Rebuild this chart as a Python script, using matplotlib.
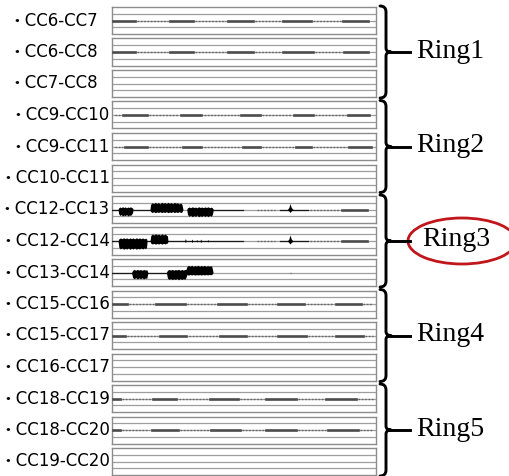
import numpy as np
import matplotlib.pyplot as plt
from matplotlib.path import Path
from matplotlib.patches import PathPatch, Ellipse

# labels of the distance pairs, 3 per ring
pairs = ["CC6-CC7", "CC6-CC8", "CC7-CC8",
         "CC9-CC10", "CC9-CC11", "CC10-CC11",
         "CC12-CC13", "CC12-CC14", "CC13-CC14",
         "CC15-CC16", "CC15-CC17", "CC16-CC17",
         "CC18-CC19", "CC18-CC20", "CC19-CC20"]
rings = ["Ring1", "Ring2", "Ring3", "Ring4", "Ring5"]

# faint traces: (start, end) on a 0-1000 time axis, dark and light parts
dark = {
    0: [(3, 87), (219, 308), (440, 534), (648, 755), (876, 970)],
    1: [(3, 87), (219, 308), (440, 534), (648, 761), (880, 970)],
    3: [(43, 131), (263, 339), (490, 559), (691, 761), (893, 975)],
    4: [(49, 131), (269, 339), (496, 559), (697, 754), (899, 981)],
    6: [(871, 966)],
    7: [(871, 966)],
    9: [(3, 55), (168, 275), (402, 509), (628, 729), (849, 943)],
    10: [(3, 49), (181, 282), (408, 509), (628, 735), (849, 950)],
    12: [(3, 30), (156, 244), (370, 477), (584, 698), (811, 924)],
    13: [(3, 30), (150, 250), (376, 483), (584, 698), (817, 930)],
}
light = {
    0: [(87, 219), (308, 440), (534, 648), (755, 876)],
    1: [(87, 219), (308, 440), (534, 648), (761, 880)],
    3: [(3, 43), (131, 263), (339, 490), (559, 691), (761, 893)],
    4: [(3, 49), (131, 269), (339, 496), (559, 697), (754, 899)],
    6: [(542, 625), (742, 871)],
    7: [(542, 625), (742, 871)],
    8: [(667, 686)],
    9: [(55, 168), (275, 402), (509, 628), (729, 849), (943, 995)],
    10: [(49, 181), (282, 408), (509, 628), (735, 849), (950, 995)],
    12: [(30, 156), (244, 370), (477, 584), (698, 811), (924, 995)],
    13: [(30, 150), (250, 376), (483, 584), (698, 817), (930, 995)],
}
# thin black trace parts (ring 3)
solid = {
    6: [(0, 23), (80, 144), (383, 496), (636, 742)],
    7: [(0, 23), (133, 144), (212, 496), (636, 742)],
    8: [(0, 76), (136, 208)],
}

# ring 3 envelopes: time, upper and lower deviation (px)
env7_t = [23, 25, 30, 35, 40, 45, 50, 55, 60, 65, 70, 75, 78, 80,
          144, 146, 152, 158, 164, 170, 176, 182, 188, 194, 200, 206, 212, 218,
          224, 230, 236, 242, 248, 254, 260, 265, 269,
          283, 286, 292, 298, 304, 310, 316, 322, 328, 334, 340, 346, 352,
          358, 364, 370, 376, 380, 384,
          664, 670, 674, 679, 686]
env7_up = [0, 1.5, 2.5, 1.8, 2.8, 2, 2.6, 1.7, 2.5, 2, 2.7, 1.8, 1.5, 0,
           0, 5, 6.8, 5.8, 7.2, 6, 7, 5.6, 7.3, 6.2, 7, 5.8, 7.2, 6,
           7, 5.7, 7.2, 6.1, 6.8, 5.5, 6.6, 5, 0,
           0, 1.6, 2.5, 1.8, 2.7, 2, 2.4, 1.7, 2.8, 2, 2.5, 1.8, 2.6,
           2, 2.7, 1.8, 2.4, 1.6, 0,
           0, 2, 6, 2, 0]
env7_dn = [0, 4, 6, 5, 6.5, 5.5, 6.2, 5, 6.5, 5.5, 6, 4.5, 3, 0,
           0, 2, 3, 2.2, 3.2, 2.4, 3, 2.2, 3.1, 2.4, 3, 2.2, 3.2, 2.5,
           3, 2.2, 3.1, 2.4, 3, 2.2, 3, 2.4, 0,
           0, 5, 6.8, 5.8, 7.2, 6, 7, 5.6, 7.3, 6.2, 7, 5.8, 7,
           6, 7.2, 5.8, 6.8, 5, 0,
           0, 1.5, 3, 1.5, 0]
env8_t = [23, 26, 32, 38, 44, 50, 56, 62, 68, 74, 80, 86, 92, 98, 104, 110,
          116, 122, 128, 131, 133,
          144, 147, 153, 159, 165, 171, 177, 183, 189, 195, 201, 207, 210, 212,
          275, 278, 281, 300, 303, 306, 318, 321, 324, 333, 336, 339, 360, 363, 366,
          664, 670, 674, 679, 686]
env8_up = [0, 2.2, 3, 2.3, 3.2, 2.5, 3, 2.2, 3.1, 2.4, 3, 2.2, 3.2, 2.4, 3, 2.3,
           3, 2.2, 2.8, 2, 0,
           0, 5.5, 7, 6, 7.3, 6.2, 7, 5.8, 7.2, 6, 7, 5.6, 5, 0,
           0, 2.5, 0, 0, 2, 0, 0, 1.5, 0, 0, 2, 0, 0, 1.5, 0,
           0, 2, 6, 2, 0]
env8_dn = [0, 6.5, 8, 7, 8.2, 7.4, 8, 7, 8.3, 7.2, 8, 7, 8.2, 7.3, 8, 7,
           8, 7, 7.6, 6, 0,
           0, 2.2, 3, 2.4, 3.2, 2.5, 3, 2.3, 3.1, 2.4, 3, 2.2, 2, 0,
           0, 1.5, 0, 0, 1.5, 0, 0, 1, 0, 0, 1.5, 0, 0, 1, 0,
           0, 1.5, 3, 1.5, 0]
env9_t = [74, 78, 84, 90, 96, 102, 108, 114, 120, 126, 132, 136,
          206, 210, 216, 222, 228, 234, 240, 246, 252, 258, 264, 270, 276, 280,
          284, 290, 296, 302, 308, 314, 320, 326, 332, 338, 344, 350, 356,
          362, 368, 374, 378, 383]
env9_up = [0, 2.2, 3, 2.3, 3.1, 2.4, 3, 2.2, 3, 2.4, 2.8, 0,
           0, 2.2, 3, 2.4, 3.1, 2.3, 3, 2.5, 3.2, 2.3, 3, 2.4, 3, 3,
           6, 7.2, 6.2, 7.3, 6, 7, 6.3, 7.3, 6, 7.1, 6.2, 7.2, 6,
           7, 6.2, 6.8, 6, 0]
env9_dn = [0, 5, 6.3, 5.2, 6.5, 5.4, 6.2, 5.3, 6.4, 5.5, 5.8, 0,
           0, 5.5, 7, 6, 7.2, 6.2, 7, 6, 7.3, 6.1, 7, 6.2, 6.8, 5,
           2, 2.6, 2, 2.5, 2, 2.6, 2.1, 2.5, 2, 2.6, 2, 2.5, 2,
           2.4, 2, 2.3, 2, 0]
envelopes = {6: (env7_t, env7_up, env7_dn),
             7: (env8_t, env8_up, env8_dn),
             8: (env9_t, env9_up, env9_dn)}

W, H = 509, 476
fig = plt.figure(figsize=(W / 100, H / 100), dpi=100)

x0, pw, ph, step, top0 = 112, 264, 27, 31.5, 7
px = ph / 2.0  # pixels per y unit

for i, name in enumerate(pairs):
    top = top0 + step * i
    ax = fig.add_axes([x0 / W, 1 - (top + ph) / H, pw / W, ph / H])
    ax.set_xlim(0, 1000)
    ax.set_ylim(-1, 1)
    for y in (-0.5, 0, 0.5):
        ax.axhline(y, color='0.62', lw=0.9, zorder=1)
    for s in ax.spines.values():
        s.set_color('0.55')
        s.set_linewidth(1.0)
    ax.set_xticks([])
    ax.set_yticks([])
    for a, b in light.get(i, []):
        ax.plot([a + 8, b - 8], [0, 0], color='0.4', lw=1.0, ls=(0, (1.2, 1.2)), zorder=2)
    for a, b in dark.get(i, []):
        ax.plot([a, b], [0, 0], color='0.3', lw=1.9, zorder=3)
    for a, b in solid.get(i, []):
        ax.plot([a, b], [0, 0], color='0.1', lw=0.9, zorder=3)
    if i in envelopes:
        t, up, dn = envelopes[i]
        t = np.array(t, float)
        ax.fill_between(t, -np.array(dn) / px, np.array(up) / px,
                        color='black', lw=0, zorder=4)

# overlay in pixel coordinates for labels, brackets and ring names
ov = fig.add_axes([0, 0, 1, 1])
ov.set_xlim(0, W)
ov.set_ylim(H, 0)
ov.axis('off')
ov.patch.set_alpha(0)

for i, name in enumerate(pairs):
    yc = top0 + step * i + ph / 2
    xr = 98 if i < 3 else 110
    ov.text(xr, yc, "・" + name, ha='right', va='center', fontsize=12,
            family=['DejaVu Sans', 'Noto Sans CJK JP'])

for g, ring in enumerate(rings):
    t = top0 + step * 3 * g - 1
    b = t + step * 2 + ph + 2
    m = (t + b) / 2
    xv = 386
    verts = [(380, t), (xv, t), (xv, t + 6),
             (xv, m - 4),
             (xv, m), (391, m),
             (xv, m), (xv, m + 4),
             (xv, b - 6),
             (xv, b), (380, b)]
    codes = [Path.MOVETO, Path.CURVE3, Path.CURVE3,
             Path.LINETO,
             Path.CURVE3, Path.CURVE3,
             Path.CURVE3, Path.CURVE3,
             Path.LINETO,
             Path.CURVE3, Path.CURVE3]
    ov.add_patch(PathPatch(Path(verts, codes), fill=False, lw=2.1, color='black',
                           capstyle='round', joinstyle='round'))
    ov.plot([389, 410], [m, m], color='black', lw=2.1)
    xt = 422 if g == 2 else 416
    ov.text(xt, m - 1, ring, ha='left', va='center', fontsize=20,
            family='Liberation Serif')
    if g == 2:
        ov.add_patch(Ellipse((462, m), 108, 46, fill=False, ec='#c0161c', lw=2.0,
                             clip_on=False))

fig.savefig('out.png', dpi=100)
